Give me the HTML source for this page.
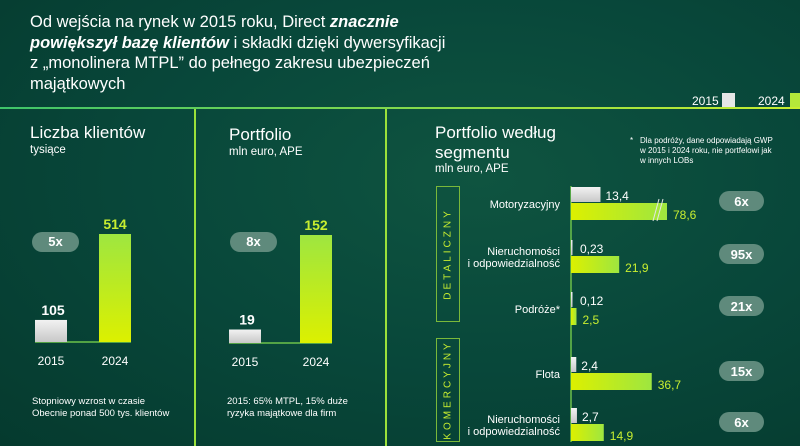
<!DOCTYPE html>
<html><head><meta charset="utf-8">
<style>
*{margin:0;padding:0;box-sizing:border-box}
body{width:800px;height:446px;overflow:hidden;font-family:"Liberation Sans",sans-serif;color:#fff;background:radial-gradient(ellipse at 60% 40%,#0f5440 0%,#08473a 50%,#053a2e 100%);position:relative}
.abs{position:absolute}
.pill{position:absolute;background:#5f8a7c;border-radius:10px;height:20px;color:#fff;font-weight:bold;font-size:13px;text-align:center;line-height:20px;width:46px}
.t{position:absolute;white-space:nowrap}
</style></head><body>
<div class="t" style="left:30px;top:12px;font-size:16.5px;line-height:20.5px;white-space:normal;width:425px">Od wejścia na rynek w 2015 roku, Direct <b><i>znacznie powiększył bazę klientów</i></b> i składki dzięki dywersyfikacji z „monolinera MTPL” do pełnego zakresu ubezpieczeń majątkowych</div>
<div class="abs" style="left:0;top:107px;width:800px;height:2px;background:linear-gradient(90deg,#3ec46a,#c8ee30)"></div>
<div class="abs" style="left:194px;top:109px;width:2px;height:337px;background:#9be03a"></div>
<div class="abs" style="left:385px;top:109px;width:2px;height:337px;background:#9be03a"></div>
<div class="t" style="left:692px;top:94px;font-size:12px">2015</div>
<div class="abs" style="left:722px;top:93px;width:13px;height:14px;background:#e6e6e6"></div>
<div class="t" style="left:758px;top:94px;font-size:12px">2024</div>
<div class="abs" style="left:790px;top:93px;width:10px;height:14px;background:#b4e83a"></div>

<div class="t" style="left:30px;top:123px;font-size:17px">Liczba klientów</div>
<div class="t" style="left:30px;top:144px;font-size:11.5px">tysiące</div>
<div class="t" style="left:229px;top:125px;font-size:17px">Portfolio</div>
<div class="t" style="left:229px;top:146px;font-size:11.5px">mln euro, APE</div>
<div class="t" style="left:32px;top:396px;font-size:9.5px;line-height:11.5px">Stopniowy wzrost w czasie<br>Obecnie ponad 500 tys. klientów</div>
<div class="t" style="left:227px;top:396px;font-size:9.5px;line-height:11.5px">2015: 65% MTPL, 15% duże<br>ryzyka majątkowe dla firm</div>
<div class="pill" style="left:32px;top:232px;width:47px">5x</div>
<div class="pill" style="left:230px;top:232px;width:47px">8x</div>

<div class="t" style="left:435px;top:123px;font-size:17px;line-height:20px">Portfolio według<br>segmentu</div>
<div class="t" style="left:435px;top:163px;font-size:11.5px">mln euro, APE</div>
<div class="t" style="left:640px;top:136px;font-size:8px;line-height:10px"><span style="position:absolute;left:-10px">*</span>Dla podróży, dane odpowiadają GWP<br>w 2015 i 2024 roku, nie portfelowi jak<br>w innych LOBs</div>
<div class="abs" style="left:436px;top:186px;width:24px;height:136px;border:1.5px solid #7ab83a"></div>
<div class="t" style="left:448px;top:254px;font-size:10px;color:#c8ee30;letter-spacing:3px;transform:translate(-50%,-50%) rotate(-90deg)">DETALICZNY</div>
<div class="abs" style="left:436px;top:338px;width:24px;height:104px;border:1.5px solid #7ab83a"></div>
<div class="t" style="left:448px;top:390px;font-size:10px;color:#c8ee30;letter-spacing:3px;transform:translate(-50%,-50%) rotate(-90deg)">KOMERCYJNY</div>

<svg class="abs" style="left:0;top:0" width="800" height="446">
<defs>
<linearGradient id="gv" x1="0" y1="0" x2="0" y2="1"><stop offset="0" stop-color="#9ee640"/><stop offset="1" stop-color="#dcf000"/></linearGradient>
<linearGradient id="gh" x1="0" y1="0" x2="1" y2="0"><stop offset="0" stop-color="#dcf000"/><stop offset="1" stop-color="#9ee640"/></linearGradient>
<linearGradient id="gw" x1="0" y1="0" x2="0" y2="1"><stop offset="0" stop-color="#f2f2f2"/><stop offset="1" stop-color="#c8c8c8"/></linearGradient>
</defs>
<g id="g"></g>
</svg>
<script>
const years=["2015","2024"];
const clients=[105,514];
const portfolio=[19,152];
const segments=["Motoryzacyjny","Nieruchomości|i odpowiedzialność","Podróże*","Flota","Nieruchomości|i odpowiedzialność"];
const seg2015=[13.4,0.23,0.12,2.4,2.7];
const seg2024=[78.6,21.9,2.5,36.7,14.9];
const labels2015=["13,4","0,23","0,12","2,4","2,7"];
const labels2024=["78,6","21,9","2,5","36,7","14,9"];
const growth=["6x","95x","21x","15x","6x"];

const NS="http://www.w3.org/2000/svg";
const g=document.getElementById('g');
function el(t,a,txt){const e=document.createElementNS(NS,t);for(const k in a)e.setAttribute(k,a[k]);if(txt!=null)e.textContent=txt;g.appendChild(e);return e;}

function colChart(vals,xs,base,maxH,name){
  const mx=Math.max(...vals);
  const y=v=>base-v/mx*maxH;
  const l=el('line',{x1:xs[0],x2:xs[1]+32,y1:base,y2:base,stroke:'#6cc24a','stroke-width':1.5});
  
  
  vals.forEach((v,i)=>{
    const r=el('rect',{x:xs[i],y:y(v),width:32,height:base-y(v),fill:i?'url(#gv)':'url(#gw)'});
    
    
    const t=el('text',{x:xs[i]+16+(i?0:2),y:y(v)-5,'text-anchor':'middle','font-size':14,'font-weight':'bold',fill:i?'#c8ee30':'#fff'},String(v));
    
    
    const yl=el('text',{x:xs[i]+16,y:base+23,'text-anchor':'middle','font-size':12,fill:'#fff'},years[i]);
    
    
  });
}
colChart(clients,[35,99],342,108,'clients');
colChart(portfolio,[229,300],343,108,'portfolio');

const ax=571, sc=2.2, cap=96;
const rowTop=[187,240,292,357,408];
const ax1=el('line',{x1:ax,x2:ax,y1:186,y2:442,stroke:'#6cc24a','stroke-width':1.5});


const px=v=>Math.min(v*sc,cap);
segments.forEach((s,i)=>{
  const t0=rowTop[i];
  const w0=Math.max(px(seg2015[i]),1.5), w1=px(seg2024[i]);
  const r0=el('rect',{x:ax,y:t0,width:w0,height:15,fill:'url(#gw)'});
  
  
  const r1=el('rect',{x:ax,y:t0+16,width:w1,height:17,fill:'url(#gh)'});
  
  
  const l0=el('text',{x:ax+Math.max(w0,4)+5,y:t0+13,'font-size':12,fill:'#fff'},labels2015[i]);
  
  
  const l1=el('text',{x:ax+w1+6,y:t0+32,'font-size':12,fill:'#c8ee30'},labels2024[i]);
  
  
  if(seg2024[i]*sc>cap){
    [0,4].forEach(d=>{const b=el('line',{x1:ax+cap-14+d,y1:t0+34,x2:ax+cap-8+d,y2:t0+12,stroke:'#e6e6e6','stroke-width':1});
    
    });
  }
  const parts=s.split('|');
  parts.forEach((p,j)=>{
    const cy=t0+17+(j-(parts.length-1)/2)*12+4;
    const c=el('text',{x:560,y:cy,'text-anchor':'end','font-size':11,fill:'#fff'},p);
    
    
  });
  const pr=el('rect',{x:719,y:t0+4,width:45,height:20,rx:10,fill:'#5f8a7c'});
  
  
  const pt=el('text',{x:741.5,y:t0+19,'text-anchor':'middle','font-size':13,'font-weight':'bold',fill:'#fff'},growth[i]);
  
  
});
</script>
</body></html>
